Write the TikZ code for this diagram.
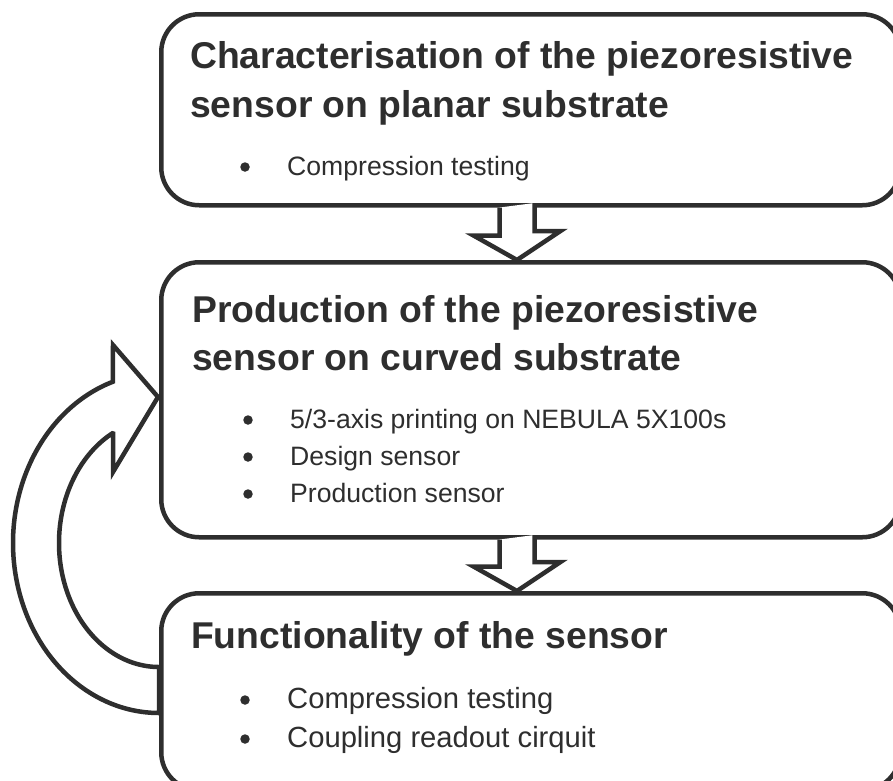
\documentclass[tikz,border=0pt]{standalone}
\usepackage{fontspec}
\setmainfont{Liberation Sans}
\definecolor{ink}{HTML}{2E2E2E}
\tikzset{
  box/.style={draw=ink, fill=white, line width=4.5pt, rounded corners=38pt, anchor=north west, inner sep=0pt},
  head/.style={anchor=base west, inner sep=0pt, text=ink, font=\fontsize{37.3}{44}\selectfont\bfseries},
  item/.style={anchor=base west, inner sep=0pt, text=ink, font=\fontsize{26.6}{31}\selectfont},
  itemL/.style={anchor=base west, inner sep=0pt, text=ink, font=\fontsize{29.2}{35}\selectfont},
  dot/.style={circle, fill=ink, inner sep=0pt, minimum size=9.5pt},
  blockarrow/.style={draw=ink, fill=white, line width=4.5pt, line join=miter},
  curvearrow/.style={draw=ink, fill=white, line width=4.5pt, line join=miter},
}
\begin{document}
\begin{tikzpicture}[x=1pt,y=-1pt]
\useasboundingbox (0,0) rectangle (893,780);
\clip (0,0) rectangle (893,780);

% curved feedback arrow (behind the boxes)
\path[curvearrow]
  plot[domain=90:251.6, samples=60, smooth] ({159+146*cos(\x)}, {543+170*sin(\x)})
  -- (113,345) -- (158,397) -- (113,472) -- (113,433.5)
  -- plot[domain=242.2:90, samples=60, smooth] ({159+100*cos(\x)}, {543+124*sin(\x)})
  -- cycle;

% boxes
\node[box, minimum width=739pt, minimum height=191pt] (b1) at (159,12) {};
\node[box, minimum width=739pt, minimum height=275pt] (b2) at (159,260) {};
\node[box, minimum width=739pt, minimum height=197pt] (b3) at (159,591) {};

% box 1 text
\node[head] (h1a) at (190,68) {Characterisation of the piezoresistive};
\node[head] (h1b) at (190,117) {sensor on planar substrate};
\node[dot] (d11) at (245,167) {};
\node[item] (t11) at (287,175) {Compression testing};

% box 2 text
\node[head] (h2a) at (192,322) {Production of the piezoresistive};
\node[head] (h2b) at (192,370) {sensor on curved substrate};
\node[dot] (d21) at (248,420) {};
\node[dot] (d22) at (248,457) {};
\node[dot] (d23) at (248,494) {};
\node[item] (t21) at (290,428) {5/3-axis printing on NEBULA 5X100s};
\node[item] (t22) at (290,465) {Design sensor};
\node[item] (t23) at (290,502) {Production sensor};

% box 3 text
\node[head] (h3a) at (191,648) {Functionality of the sensor};
\node[dot] (d31) at (245,700) {};
\node[dot] (d32) at (245,739) {};
\node[itemL] (t31) at (287,708) {Compression testing};
\node[itemL] (t32) at (287,747) {Coupling readout cirquit};

% block arrows between boxes
\coordinate (ax) at (517,0);
\path[blockarrow] (b1.south -| ax) ++(-17.5,0) -- ++(0,28) -- ++(-26,0) -- (b2.north -| ax) -- ++(43.5,-29) -- ++(-26,0) -- ++(0,-28);
\path[blockarrow] (b2.south -| ax) ++(-17.5,0) -- ++(0,27) -- ++(-26,0) -- (b3.north -| ax) -- ++(43.5,-29) -- ++(-26,0) -- ++(0,-27);
\end{tikzpicture}
\end{document}
